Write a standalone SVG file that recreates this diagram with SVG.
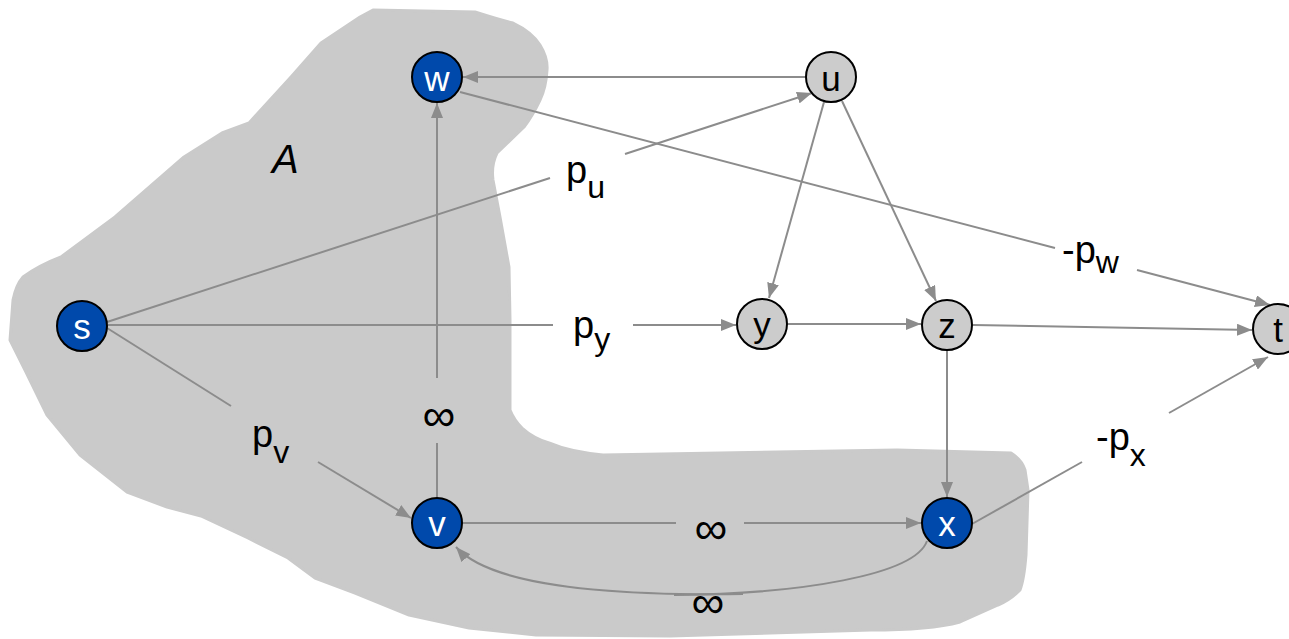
<svg xmlns="http://www.w3.org/2000/svg" width="1289" height="639" viewBox="0 0 1289 639">
<style>
.blob{fill:#cacaca;stroke:#cacaca;stroke-width:3;stroke-linejoin:round}
.e{fill:none;stroke:#8c8c8c;stroke-width:2}
.nb{fill:#0049ab;stroke:#000;stroke-width:2}
.ng{fill:#cccccc;stroke:#000;stroke-width:2}
.tw{font-family:"Liberation Sans",Arial,sans-serif;font-size:35px;fill:#fff;text-anchor:middle}
.tk{font-family:"Liberation Sans",Arial,sans-serif;font-size:35px;fill:#000;text-anchor:middle}
.lbl{font-family:"Liberation Sans",Arial,sans-serif;font-size:38px;fill:#000}
.sub{font-size:32px}
.inf{font-family:"Liberation Sans",Arial,sans-serif;font-size:46px;fill:#000;text-anchor:middle}
</style>
<defs>
<marker id="ah" markerUnits="userSpaceOnUse" markerWidth="15" markerHeight="12" refX="15" refY="6" orient="auto">
<path d="M0,0 L15,6 L0,12 z" fill="#8c8c8c"/>
</marker>
</defs>
<rect width="1289" height="639" fill="#fff"/>
<path class="blob" d="M373,10 L475,12 Q500,20 513,23 Q532,32 540,45 Q548,58 547,70 Q546,88 540,100 Q533,115 524,127 L497,153 Q491,165 493,180 L500,217 L509,267 L510,320 L510,410 Q514,420 522,428 Q533,438 549,443 Q570,452 603,455 L897,450 L1011,453 Q1022,460 1025,470 L1028,490 L1026,555 Q1024,580 1020,590 Q1010,600 998,605 L960,622 Q930,630 871,630 L670,636 L536,635 L469,628 L409,615 L355,593 L315,578 L288,558 L248,538 L201,516 L167,507 L127,492 L80,455 L47,415 L25,370 L10,340 L13,300 Q16,285 23,277 Q40,265 61,257 L115,217 L161,177 L184,157 L222,133 L249,123 L291,77 L321,43 L360,17 Z"/>
<text x="272" y="173" font-family="Liberation Sans, Arial, sans-serif" font-size="40" font-style="italic" fill="#000">A</text>
<g id="connectors">
<path class="e" d="M805,77 L463,77" marker-end="url(#ah)"/>
<path class="e" d="M460,92 L1055,248"/>
<path class="e" d="M1137,270 L1270,305" marker-end="url(#ah)"/>
<path class="e" d="M107,322 L550,178"/>
<path class="e" d="M625,154 L812,93" marker-end="url(#ah)"/>
<path class="e" d="M108,325 L553,325"/>
<path class="e" d="M633,325 L736,325" marker-end="url(#ah)"/>
<path class="e" d="M107,328 L231,406"/>
<path class="e" d="M318,462 L411,518" marker-end="url(#ah)"/>
<path class="e" d="M437,497 L437,443"/>
<path class="e" d="M437,378 L437,103" marker-end="url(#ah)"/>
<path class="e" d="M463,523 L676,523"/>
<path class="e" d="M744,523 L921,523" marker-end="url(#ah)"/>
<path class="e" d="M927,541 C915,575 800,594 674,595"/>
<path class="e" d="M743,594 C600,596 490,585 456,547" marker-end="url(#ah)"/>
<path class="e" d="M824,102 L769,298" marker-end="url(#ah)"/>
<path class="e" d="M842,101 L936,301" marker-end="url(#ah)"/>
<path class="e" d="M788,324 L921,324" marker-end="url(#ah)"/>
<path class="e" d="M973,325 L1252,330" marker-end="url(#ah)"/>
<path class="e" d="M947,351 L947,497" marker-end="url(#ah)"/>
<path class="e" d="M972,524 L1082,462"/>
<path class="e" d="M1169,413 L1268,357" marker-end="url(#ah)"/>
<text class="lbl" x="566" y="183">p<tspan class="sub" dy="15">u</tspan></text>
<text class="lbl" x="573" y="338">p<tspan class="sub" dy="12">y</tspan></text>
<text class="lbl" x="252" y="447">p<tspan class="sub" dy="16">v</tspan></text>
<text class="lbl" x="1062" y="263">-p<tspan class="sub" dy="10">w</tspan></text>
<text class="lbl" x="1096" y="450">-p<tspan class="sub" dy="16">x</tspan></text>
<text class="inf" x="439" y="431">∞</text>
<text class="inf" x="711" y="544">∞</text>
<text class="inf" x="708" y="618">∞</text>
</g>
<g id="node-s"><circle class="nb" cx="82" cy="326" r="25"/><text class="tw" x="82" y="339">s</text></g>
<g id="node-w"><circle class="nb" cx="437" cy="77" r="25"/><text class="tw" x="437" y="91">w</text></g>
<g id="node-v"><circle class="nb" cx="437" cy="523" r="25"/><text class="tw" x="437" y="536">v</text></g>
<g id="node-x"><circle class="nb" cx="947" cy="523" r="25"/><text class="tw" x="947" y="536">x</text></g>
<g id="node-u"><circle class="ng" cx="831" cy="77" r="25"/><text class="tk" x="831" y="91">u</text></g>
<g id="node-y"><circle class="ng" cx="762" cy="324" r="25"/><text class="tk" x="762" y="337">y</text></g>
<g id="node-z"><circle class="ng" cx="947" cy="325" r="25"/><text class="tk" x="947" y="338">z</text></g>
<g id="node-t"><circle class="ng" cx="1278" cy="329" r="25"/><text class="tk" x="1278" y="342">t</text></g>
</svg>
